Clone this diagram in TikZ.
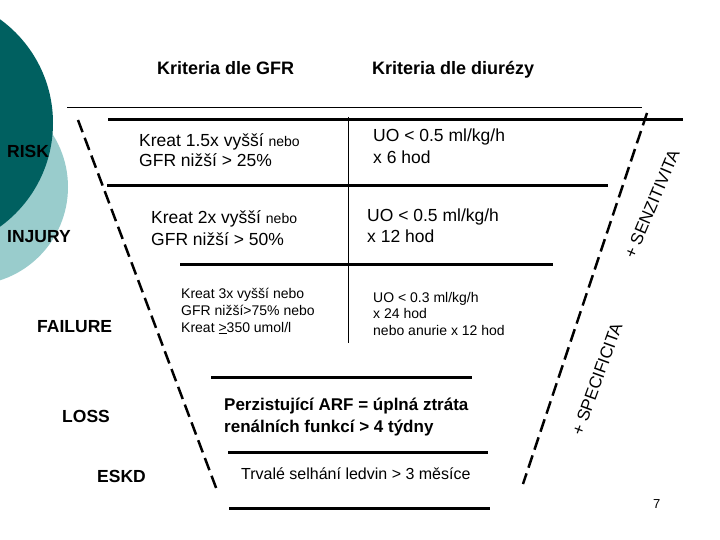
\documentclass[tikz,border=0pt]{standalone}
\usepackage{fontspec}
\setmainfont{Liberation Sans}
\definecolor{darkteal}{RGB}{0,96,96}
\definecolor{lightteal}{RGB}{153,204,204}
\newcommand{\fs}[2]{\fontsize{#1}{#2}\selectfont}

\begin{document}
\begin{tikzpicture}[x=1pt,y=-1pt,
  txt/.style={anchor=base west, inner sep=0pt, align=left},
  stage/.style={txt, font=\fs{17.5}{20}\bfseries}]

\useasboundingbox (0,0) rectangle (720,540);
\clip (0,0) rectangle (720,540);

\fill[lightteal] (-30,187) circle (98);
\fill[darkteal] (-75,123) circle (128);

\coordinate (T1) at (67,108);
\coordinate (T2) at (642,108);
\coordinate (V1) at (348,117);
\coordinate (V2) at (348,343);
\coordinate (L1) at (78,120);
\coordinate (L2) at (218,493);
\coordinate (R1) at (647,113);
\coordinate (R2) at (523,484);

\draw[line width=1pt, black] (T1) to (T2);
\draw[line width=1pt, black] (V1) to (V2);
\draw[line width=3pt, black] (108,120) to (683,120);
\draw[line width=3pt, black] (107,186) to (608,186);
\draw[line width=3pt, black] (180,264) to (553,264);
\draw[line width=3pt, black] (211,377) to (472,377);
\draw[line width=3pt, black] (228,452) to (488,452);
\draw[line width=3pt, black] (229,508) to (490,508);

\draw[line width=2.5pt, black, dash pattern=on 13pt off 6pt] (L1) to (L2);
\draw[line width=2.5pt, black, dash pattern=on 13pt off 6pt] (R1) to (R2);

\node[stage, font=\fs{18}{20}\bfseries] (gfr) at (157,75) {Kriteria dle GFR};
\node[stage, font=\fs{18}{20}\bfseries] (diu) at (372,75) {Kriteria dle diurézy};

\node[stage] (risk) at (7,158) {RISK};
\node[stage] (injury) at (7,242) {INJURY};
\node[stage] (failure) at (37,332) {FAILURE};
\node[stage] (loss) at (62,422) {LOSS};
\node[stage] (eskd) at (97,482) {ESKD};

\node[txt, font=\fs{17.5}{20}] (g1) at (139,167)
  {Kreat 1.5x vyšší {\fs{14}{20}nebo}\\GFR nižší > 25\%};
\node[txt, font=\fs{17.5}{21}] (g2) at (151,245)
  {Kreat 2x vyšší {\fs{14}{21}nebo}\\GFR nižší > 50\%};
\node[txt, font=\fs{14}{17}] (g3) at (181,332)
  {Kreat 3x vyšší nebo\\GFR nižší>75\% nebo\\Kreat \underline{>}350 umol/l};

\node[txt, font=\fs{17.5}{22}] (u1) at (373,164)
  {UO < 0.5 ml/kg/h\\x 6 hod};
\node[txt, font=\fs{17.5}{21}] (u2) at (367,243)
  {UO < 0.5 ml/kg/h\\x 12 hod};
\node[txt, font=\fs{14}{16.5}] (u3) at (373,335)
  {UO < 0.3 ml/kg/h\\x 24 hod\\nebo anurie x 12 hod};

\node[txt, font=\fs{17}{22}\bfseries] (arf) at (224,432)
  {Perzistující ARF = úplná ztráta\\renálních funkcí > 4 týdny};
\node[txt, font=\fs{16}{20}] (esrd) at (241,479) {Trvalé selhání ledvin > 3 měsíce};

\node[rotate=67, font=\fs{17}{20}] (senz) at (652,204) {+ SENZITIVITA};
\node[rotate=70, font=\fs{17}{20}] (spec) at (597,379) {+ SPECIFICITA};

\node[txt, font=\fs{13}{15}] (page) at (653,508) {7};

\end{tikzpicture}
\end{document}
